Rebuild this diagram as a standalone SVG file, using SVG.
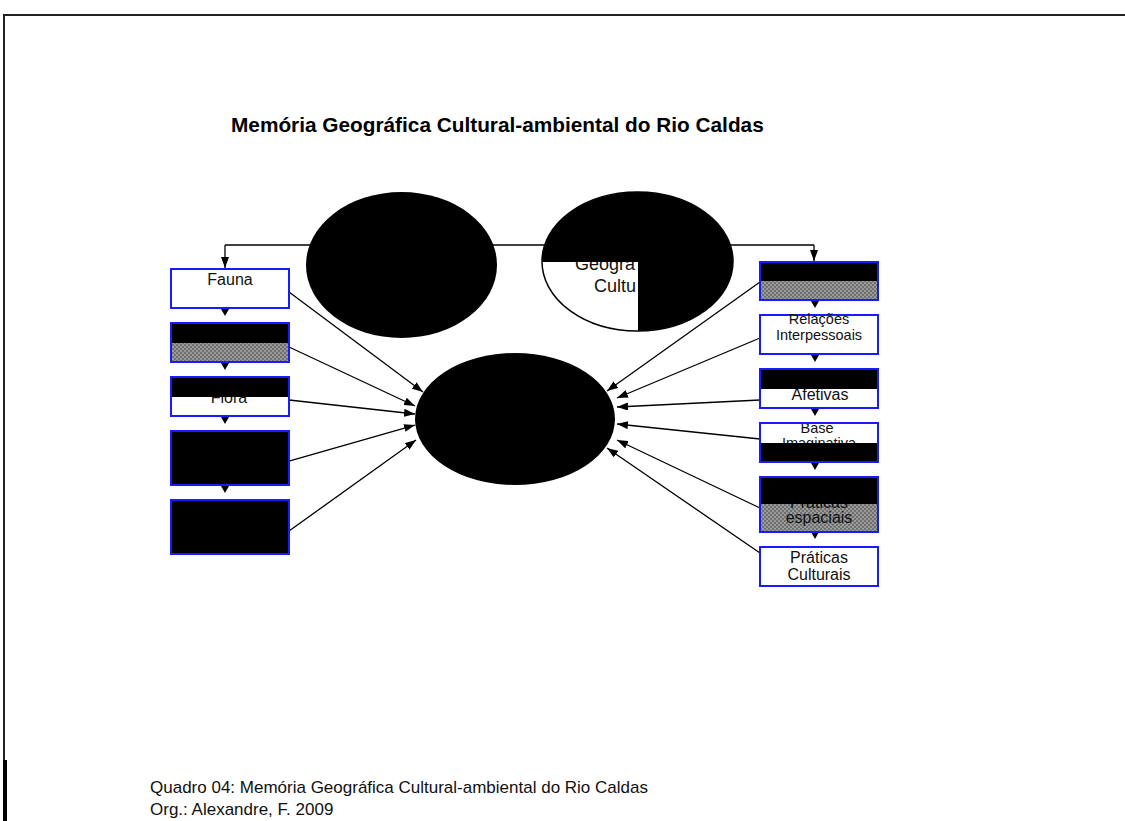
<svg xmlns="http://www.w3.org/2000/svg" width="1125" height="821" viewBox="0 0 1125 821">
<defs>
<style>
.box{stroke:#1a1aff;stroke-width:2}
.t{font-family:"Liberation Sans",Arial,sans-serif;fill:#111;text-anchor:middle}
.con{stroke:#000;stroke-width:1.3;fill:none}
.tri{fill:#000}
</style>
<pattern id="chk" width="4" height="4" patternUnits="userSpaceOnUse">
<rect width="4" height="4" fill="#9a9a9a"/>
<rect width="2" height="2" fill="#707070"/>
<rect x="2" y="2" width="2" height="2" fill="#707070"/>
</pattern>
<marker id="ah" markerWidth="11" markerHeight="8" refX="11" refY="4" orient="auto" markerUnits="userSpaceOnUse">
<path d="M0,0 L11,4 L0,8 z" fill="#000"/>
</marker>
</defs>
<rect width="1125" height="821" fill="#fff"/>
<path d="M4,821 V15 H1125" stroke="#222" stroke-width="2" fill="none"/>
<rect x="3" y="760" width="4" height="61" fill="#000"/>
<text x="231" y="132" font-family="Liberation Sans,Arial,sans-serif" font-weight="bold" font-size="20.8" fill="#000">Memória Geográfica Cultural-ambiental do Rio Caldas</text>

<g id="connectors">
<polyline class="con" points="225,245 814,245" stroke="#333"/>
<polyline class="con" points="225,245 225,268" marker-end="url(#ah)"/>
<polyline class="con" points="814,245 814,261" marker-end="url(#ah)"/>
<line class="con" x1="289" y1="292" x2="423" y2="392" marker-end="url(#ah)"/>
<line class="con" x1="289" y1="347" x2="415" y2="406" marker-end="url(#ah)"/>
<line class="con" x1="289" y1="400" x2="415" y2="414" marker-end="url(#ah)"/>
<line class="con" x1="289" y1="461" x2="415" y2="425" marker-end="url(#ah)"/>
<line class="con" x1="289" y1="531" x2="416" y2="440" marker-end="url(#ah)"/>
<line class="con" x1="760" y1="282" x2="607" y2="391" marker-end="url(#ah)"/>
<line class="con" x1="760" y1="338" x2="617" y2="398" marker-end="url(#ah)"/>
<line class="con" x1="760" y1="400" x2="617" y2="407" marker-end="url(#ah)"/>
<line class="con" x1="760" y1="439" x2="617" y2="424" marker-end="url(#ah)"/>
<line class="con" x1="760" y1="508" x2="617" y2="440" marker-end="url(#ah)"/>
<line class="con" x1="760" y1="553" x2="607" y2="448" marker-end="url(#ah)"/>
<path class="tri" d="M221,309 h8 l-4,7 z"/>
<path class="tri" d="M221,363 h8 l-4,7 z"/>
<path class="tri" d="M221,417 h8 l-4,7 z"/>
<path class="tri" d="M221,486 h8 l-4,7 z"/>
<path class="tri" d="M811,301 h8 l-4,7 z"/>
<path class="tri" d="M811,355 h8 l-4,7 z"/>
<path class="tri" d="M811,409 h8 l-4,7 z"/>
<path class="tri" d="M811,463 h8 l-4,7 z"/>
<path class="tri" d="M811,532 h8 l-4,7 z"/>
</g>

<g id="node-ellipse-left">
<ellipse cx="401.5" cy="265" rx="95.5" ry="73" fill="#000"/>
</g>
<g id="node-ellipse-right">
<ellipse cx="637.5" cy="261.5" rx="95.5" ry="69.5" fill="#fff" stroke="#000" stroke-width="1.5"/>
<text x="575" y="270" font-family="Liberation Sans,Arial,sans-serif" font-size="18" fill="#111">Geogra</text>
<text x="594" y="291.7" font-family="Liberation Sans,Arial,sans-serif" font-size="18" fill="#111">Cultu</text>
<path d="M638,262 L542,262 A95.5,69.5 0 1 1 638,331 Z" fill="#000"/>
</g>
<g id="node-ellipse-center">
<ellipse cx="515" cy="419" rx="100" ry="66" fill="#000"/>
</g>

<g id="node-fauna">
<rect class="box" x="171" y="269" width="118" height="39" fill="#fff"/>
<text class="t" x="230" y="284.5" font-size="16">Fauna</text>
</g>
<g id="node-left2">
<rect x="171" y="343" width="118" height="19" fill="url(#chk)"/>
<rect x="171" y="323" width="118" height="20" fill="#000"/>
<rect class="box" x="171" y="323" width="118" height="39" fill="none"/>
</g>
<g id="node-flora">
<rect class="box" x="171" y="377" width="118" height="39" fill="#fff"/>
<text class="t" x="229" y="403.3" font-size="16">Flora</text>
<rect x="171" y="377" width="118" height="20" fill="#000"/>
<rect class="box" x="171" y="377" width="118" height="39" fill="none"/>
</g>
<g id="node-left4">
<rect class="box" x="171" y="431" width="118" height="54" fill="#000"/>
</g>
<g id="node-left5">
<rect class="box" x="171" y="500" width="118" height="54" fill="#000"/>
</g>

<g id="node-right1">
<rect x="760" y="281" width="118" height="19" fill="url(#chk)"/>
<rect x="760" y="262" width="118" height="19" fill="#000"/>
<rect class="box" x="760" y="262" width="118" height="38" fill="none"/>
</g>
<g id="node-relacoes">
<rect class="box" x="760" y="315" width="118" height="39" fill="#fff"/>
<text class="t" x="819" y="324" font-size="14.5">Relações</text>
<text class="t" x="819" y="339.5" font-size="14.5">Interpessoais</text>
</g>
<g id="node-afetivas">
<rect class="box" x="760" y="369" width="118" height="39" fill="#fff"/>
<text class="t" x="820" y="400" font-size="16">Afetivas</text>
<rect x="760" y="369" width="118" height="20" fill="#000"/>
<rect class="box" x="760" y="369" width="118" height="39" fill="none"/>
</g>
<g id="node-base">
<rect class="box" x="760" y="423" width="118" height="39" fill="#fff"/>
<text class="t" x="817" y="432.7" font-size="14.5">Base</text>
<text class="t" x="819" y="448" font-size="14.5">Imaginativa</text>
<rect x="760" y="443" width="118" height="19" fill="#000"/>
<rect class="box" x="760" y="423" width="118" height="39" fill="none"/>
</g>
<g id="node-praticas-espaciais">
<rect x="760" y="504" width="118" height="28" fill="url(#chk)"/>
<text class="t" x="819" y="508" font-size="16">Práticas</text>
<text class="t" x="819" y="523.3" font-size="16">espaciais</text>
<rect x="760" y="477" width="118" height="27" fill="#000"/>
<rect class="box" x="760" y="477" width="118" height="55" fill="none"/>
</g>
<g id="node-praticas-culturais">
<rect class="box" x="760" y="547" width="118" height="39" fill="#fff"/>
<text class="t" x="819" y="563.3" font-size="16">Práticas</text>
<text class="t" x="819" y="580" font-size="16">Culturais</text>
</g>

<text x="150" y="793" font-family="Liberation Sans,Arial,sans-serif" font-size="17" fill="#111">Quadro 04: Memória Geográfica Cultural-ambiental do Rio Caldas</text>
<text x="150" y="815" font-family="Liberation Sans,Arial,sans-serif" font-size="17" fill="#111">Org.: Alexandre, F. 2009</text>
</svg>
